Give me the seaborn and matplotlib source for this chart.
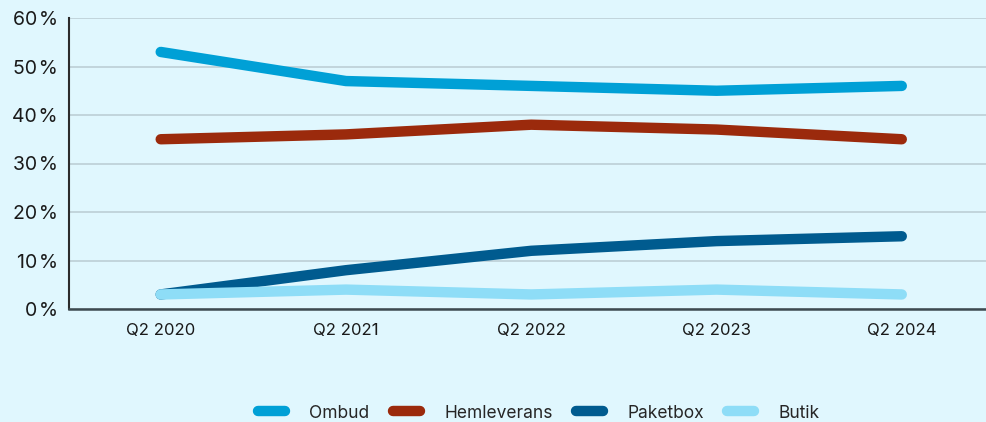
import matplotlib
matplotlib.use("Agg")
import matplotlib.pyplot as plt
import seaborn as sns
import pandas as pd
from matplotlib.ticker import FuncFormatter
from matplotlib.lines import Line2D

quarters = ["Q2 2020", "Q2 2021", "Q2 2022", "Q2 2023", "Q2 2024"]
ombud = [53, 47, 46, 45, 46]
hemleverans = [35, 36, 38, 37, 35]
paketbox = [3, 8, 12, 14, 15]
butik = [3, 4, 3, 4, 3]

series_names = ["Ombud", "Hemleverans", "Paketbox", "Butik"]
colors = ["#00A0D6", "#9B2A0C", "#005B8F", "#8EDDF7"]

df = pd.DataFrame({"Kvartal": quarters, "Ombud": ombud, "Hemleverans": hemleverans,
                   "Paketbox": paketbox, "Butik": butik})
long = df.melt(id_vars="Kvartal", var_name="Kanal", value_name="Andel")
long["pos"] = long["Kvartal"].map({q: i for i, q in enumerate(quarters)})

sns.set_theme(style="white")
plt.rcParams["font.family"] = ["Inter", "DejaVu Sans"]
bg = "#E0F7FE"

fig = plt.figure(figsize=(9.87, 4.22), dpi=100, facecolor=bg)
ax = fig.add_axes([69 / 987, 1 - 309 / 422, 1 - 69 / 987, (309 - 18) / 422])
ax.set_facecolor(bg)

sns.lineplot(data=long, x="pos", y="Andel", hue="Kanal", hue_order=series_names,
             palette=colors, linewidth=7.5, ax=ax, legend=False,
             solid_capstyle="round", solid_joinstyle="round")

ax.set_xlim(-0.495, 4.46)
ax.set_ylim(0, 60)
ax.set_yticks(range(0, 61, 10))
ax.yaxis.set_major_formatter(FuncFormatter(lambda v, p: f"{int(v)}\u200a%"))
ax.set_xticks(range(len(quarters)))
ax.set_xticklabels(quarters)
ax.set_xlabel("")
ax.set_ylabel("")
ax.grid(axis="y", color="#BCCFD6", linewidth=1.2)
ax.set_axisbelow(True)
for s in ["top", "right"]:
    ax.spines[s].set_visible(False)
ax.spines["left"].set_color("#2B2B2B")
ax.spines["left"].set_linewidth(1.5)
ax.spines["bottom"].set_color("#3D4A50")
ax.spines["bottom"].set_linewidth(1.8)
ax.tick_params(axis="y", labelsize=14, length=0, pad=8, labelcolor="#1A1A1A")
ax.tick_params(axis="x", labelsize=12, length=0, pad=10, labelcolor="#1A1A1A")

handles = [Line2D([0], [0], color=c, linewidth=7.5, solid_capstyle="round") for c in colors]
fig.legend(handles, series_names, loc="lower center", bbox_to_anchor=(0.546, -0.036),
           ncol=4, frameon=False, fontsize=12.5, handlelength=1.55, columnspacing=1.35,
           handletextpad=1.4)

fig.savefig("out.png", dpi=100, facecolor=bg)
